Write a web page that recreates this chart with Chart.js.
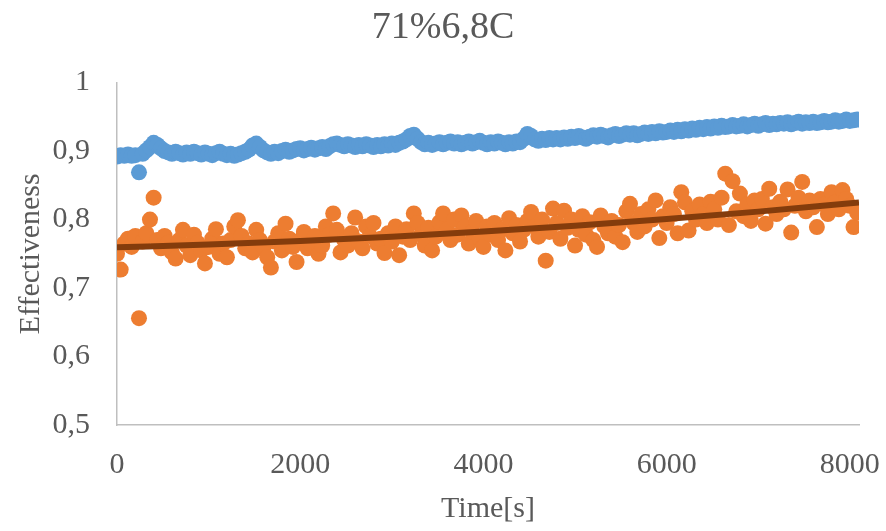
<!DOCTYPE html>
<html>
<head>
<meta charset="utf-8">
<script src="https://cdn.jsdelivr.net/npm/chart.js@4"></script>
<style>
  body { margin: 0; background: #fff; }
</style>
</head>
<body>
<canvas id="myChart" width="886" height="531"></canvas>
<script>
// measurement times [s]
const times = [
  0, 40, 80, 120, 160, 200, 240, 280, 320, 360,
  400, 440, 480, 520, 560, 600, 640, 680, 720, 760,
  800, 840, 880, 920, 960, 1000, 1040, 1080, 1120, 1160,
  1200, 1240, 1280, 1320, 1360, 1400, 1440, 1480, 1520, 1560,
  1600, 1640, 1680, 1720, 1760, 1800, 1840, 1880, 1920, 1960,
  2000, 2040, 2080, 2120, 2160, 2200, 2240, 2280, 2320, 2360,
  2400, 2440, 2480, 2520, 2560, 2600, 2640, 2680, 2720, 2760,
  2800, 2840, 2880, 2920, 2960, 3000, 3040, 3080, 3120, 3160,
  3200, 3240, 3280, 3320, 3360, 3400, 3440, 3480, 3520, 3560,
  3600, 3640, 3680, 3720, 3760, 3800, 3840, 3880, 3920, 3960,
  4000, 4040, 4080, 4120, 4160, 4200, 4240, 4280, 4320, 4360,
  4400, 4440, 4480, 4520, 4560, 4600, 4640, 4680, 4720, 4760,
  4800, 4840, 4880, 4920, 4960, 5000, 5040, 5080, 5120, 5160,
  5200, 5240, 5280, 5320, 5360, 5400, 5440, 5480, 5520, 5560,
  5600, 5640, 5680, 5720, 5760, 5800, 5840, 5880, 5920, 5960,
  6000, 6040, 6080, 6120, 6160, 6200, 6240, 6280, 6320, 6360,
  6400, 6440, 6480, 6520, 6560, 6600, 6640, 6680, 6720, 6760,
  6800, 6840, 6880, 6920, 6960, 7000, 7040, 7080, 7120, 7160,
  7200, 7240, 7280, 7320, 7360, 7400, 7440, 7480, 7520, 7560,
  7600, 7640, 7680, 7720, 7760, 7800, 7840, 7880, 7920, 7960,
  8000, 8040, 8080
];

// upper series (blue)
const effA = [
  0.892, 0.894, 0.893, 0.895, 0.893, 0.894, 0.869, 0.896, 0.901, 0.906,
  0.912, 0.909, 0.904, 0.900, 0.898, 0.896, 0.899, 0.897, 0.895, 0.898,
  0.896, 0.899, 0.897, 0.895, 0.898, 0.896, 0.894, 0.897, 0.899, 0.896,
  0.894, 0.896, 0.893, 0.895, 0.897, 0.899, 0.902, 0.908, 0.911, 0.906,
  0.901, 0.898, 0.896, 0.899, 0.897, 0.900, 0.902, 0.899, 0.901, 0.903,
  0.904, 0.901, 0.903, 0.905, 0.902, 0.904, 0.906, 0.903, 0.907, 0.910,
  0.911, 0.909, 0.907, 0.910, 0.908, 0.906, 0.909, 0.907, 0.910, 0.908,
  0.906, 0.909, 0.907, 0.910, 0.908, 0.911, 0.909, 0.912, 0.914, 0.917,
  0.922, 0.924, 0.918, 0.913, 0.910, 0.912, 0.909, 0.911, 0.913, 0.910,
  0.912, 0.914, 0.911, 0.913, 0.910, 0.912, 0.914, 0.911, 0.913, 0.915,
  0.912, 0.910, 0.913, 0.911, 0.914, 0.912, 0.910, 0.913, 0.911, 0.914,
  0.913, 0.918, 0.925, 0.922, 0.917, 0.915, 0.918, 0.916, 0.919, 0.917,
  0.919, 0.917, 0.920, 0.918, 0.921, 0.919, 0.922, 0.920, 0.918, 0.921,
  0.923, 0.921, 0.924, 0.922, 0.920, 0.923, 0.925, 0.922, 0.924, 0.926,
  0.924, 0.926, 0.923, 0.925, 0.927, 0.925, 0.928, 0.926, 0.929, 0.927,
  0.928, 0.930, 0.928, 0.931, 0.929, 0.932, 0.930, 0.933, 0.931, 0.934,
  0.932, 0.935, 0.933, 0.936, 0.934, 0.937, 0.935, 0.936, 0.938, 0.936,
  0.937, 0.939, 0.936, 0.938, 0.940, 0.937, 0.939, 0.941, 0.938, 0.940,
  0.939, 0.941, 0.940, 0.942, 0.939, 0.941, 0.943, 0.940, 0.942, 0.941,
  0.943, 0.941, 0.942, 0.944, 0.942, 0.943, 0.945, 0.943, 0.944, 0.946,
  0.944, 0.945, 0.946
];

// lower series (orange)
const effB = [
  0.750, 0.727, 0.765, 0.772, 0.760, 0.776, 0.656, 0.768, 0.780, 0.800,
  0.832, 0.770, 0.758, 0.776, 0.766, 0.752, 0.743, 0.770, 0.785, 0.762,
  0.748, 0.778, 0.766, 0.755, 0.736, 0.760, 0.772, 0.786, 0.750, 0.765,
  0.745, 0.770, 0.790, 0.799, 0.776, 0.758, 0.765, 0.752, 0.785, 0.770,
  0.760, 0.745, 0.730, 0.768, 0.780, 0.755, 0.794, 0.772, 0.760, 0.738,
  0.770, 0.782, 0.758, 0.765, 0.776, 0.750, 0.762, 0.790, 0.778, 0.809,
  0.785, 0.752, 0.770, 0.762, 0.780, 0.803, 0.768, 0.758, 0.790, 0.776,
  0.795, 0.765, 0.772, 0.751, 0.780, 0.768, 0.790, 0.748, 0.775, 0.786,
  0.770, 0.809, 0.795, 0.778, 0.762, 0.788, 0.755, 0.775, 0.796, 0.809,
  0.785, 0.770, 0.800, 0.778, 0.806, 0.790, 0.765, 0.782, 0.798, 0.772,
  0.760, 0.790, 0.778, 0.795, 0.770, 0.785, 0.755, 0.802, 0.780, 0.792,
  0.768, 0.785, 0.798, 0.811, 0.790, 0.775, 0.800, 0.740, 0.782, 0.816,
  0.795, 0.772, 0.813, 0.788, 0.800, 0.762, 0.785, 0.805, 0.778, 0.796,
  0.770, 0.760, 0.806, 0.790, 0.780, 0.798, 0.775, 0.792, 0.767, 0.812,
  0.823, 0.795, 0.782, 0.808, 0.790, 0.815, 0.800, 0.828, 0.773, 0.805,
  0.795, 0.818, 0.808, 0.780, 0.840, 0.825, 0.784, 0.812, 0.800, 0.822,
  0.808, 0.795, 0.826, 0.815, 0.800, 0.832, 0.867, 0.792, 0.856, 0.812,
  0.838, 0.805, 0.822, 0.798, 0.828, 0.815, 0.830, 0.794, 0.845, 0.818,
  0.808, 0.826, 0.815, 0.844, 0.781, 0.820, 0.832, 0.855, 0.812, 0.828,
  0.818, 0.789, 0.830, 0.822, 0.808, 0.840, 0.825, 0.815, 0.843, 0.830,
  0.820, 0.789, 0.810
];

// trend line for the lower series
const trendTimes = [0, 1000, 2000, 3000, 4000, 5000, 6000, 7000, 8100];
const trendVals = [0.7595, 0.7635, 0.7686, 0.7749, 0.7824, 0.7910, 0.8007, 0.8116, 0.8249];

const xTicks = [0, 2000, 4000, 6000, 8000];

const toPoints = (xs, ys) => xs.map((x, i) => ({ x: x, y: ys[i] }));

const serif = "'Liberation Serif', 'Times New Roman', serif";
const grey = '#595959';

const ctx = document.getElementById('myChart').getContext('2d');
const myChart = new Chart(ctx, {
  type: 'scatter',
  data: {
    datasets: [
      {
        type: 'line',
        label: 'Trend',
        data: toPoints(trendTimes, trendVals),
        borderColor: '#843C0C',
        borderWidth: 6,
        borderCapStyle: 'butt',
        pointRadius: 0,
        cubicInterpolationMode: 'monotone',
        fill: false,
        order: 0
      },
      {
        label: 'B',
        data: toPoints(times, effB),
        backgroundColor: '#ED7D31',
        borderWidth: 0,
        pointRadius: 8,
        order: 1
      },
      {
        label: 'A',
        data: toPoints(times, effA),
        backgroundColor: '#5B9BD5',
        borderWidth: 0,
        pointRadius: 8,
        order: 2
      }
    ]
  },
  options: {
    responsive: false,
    animation: false,
    layout: { padding: 0 },
    plugins: {
      legend: { display: false },
      tooltip: { enabled: false },
      title: {
        display: true,
        text: '71%6,8C',
        color: grey,
        font: { family: serif, size: 38, weight: 'normal' },
        padding: { top: 5, bottom: 32 }
      }
    },
    scales: {
      x: {
        type: 'linear',
        min: 0,
        max: 8100,
        afterBuildTicks: (scale) => {
          scale.ticks = xTicks.map(v => ({ value: v }));
        },
        afterFit: (scale) => {
          scale.height = 106;
          scale.paddingLeft = 0;
          scale.paddingRight = 27;
        },
        grid: { display: false, drawTicks: false },
        border: { display: true, color: '#BFBFBF', width: 1.5 },
        ticks: {
          color: grey,
          padding: 22,
          maxRotation: 0,
          font: { family: serif, size: 30 },
          callback: (v) => String(v)
        },
        title: {
          display: true,
          text: 'Time[s]',
          color: grey,
          font: { family: serif, size: 30 },
          padding: { top: 0, bottom: 4 }
        }
      },
      y: {
        min: 0.5,
        max: 1,
        afterFit: (scale) => { scale.width = 117; },
        grid: { display: false, drawTicks: false },
        border: { display: true, color: '#BFBFBF', width: 1.5 },
        ticks: {
          stepSize: 0.1,
          color: grey,
          padding: 27,
          font: { family: serif, size: 30 },
          callback: (v) => v === 1 ? '1' : v.toFixed(1).replace('.', ',')
        },
        title: {
          display: true,
          text: 'Effectiveness',
          color: grey,
          font: { family: serif, size: 30 },
          padding: { top: 13, bottom: 0 }
        }
      }
    }
  }
});
</script>
</body>
</html>
